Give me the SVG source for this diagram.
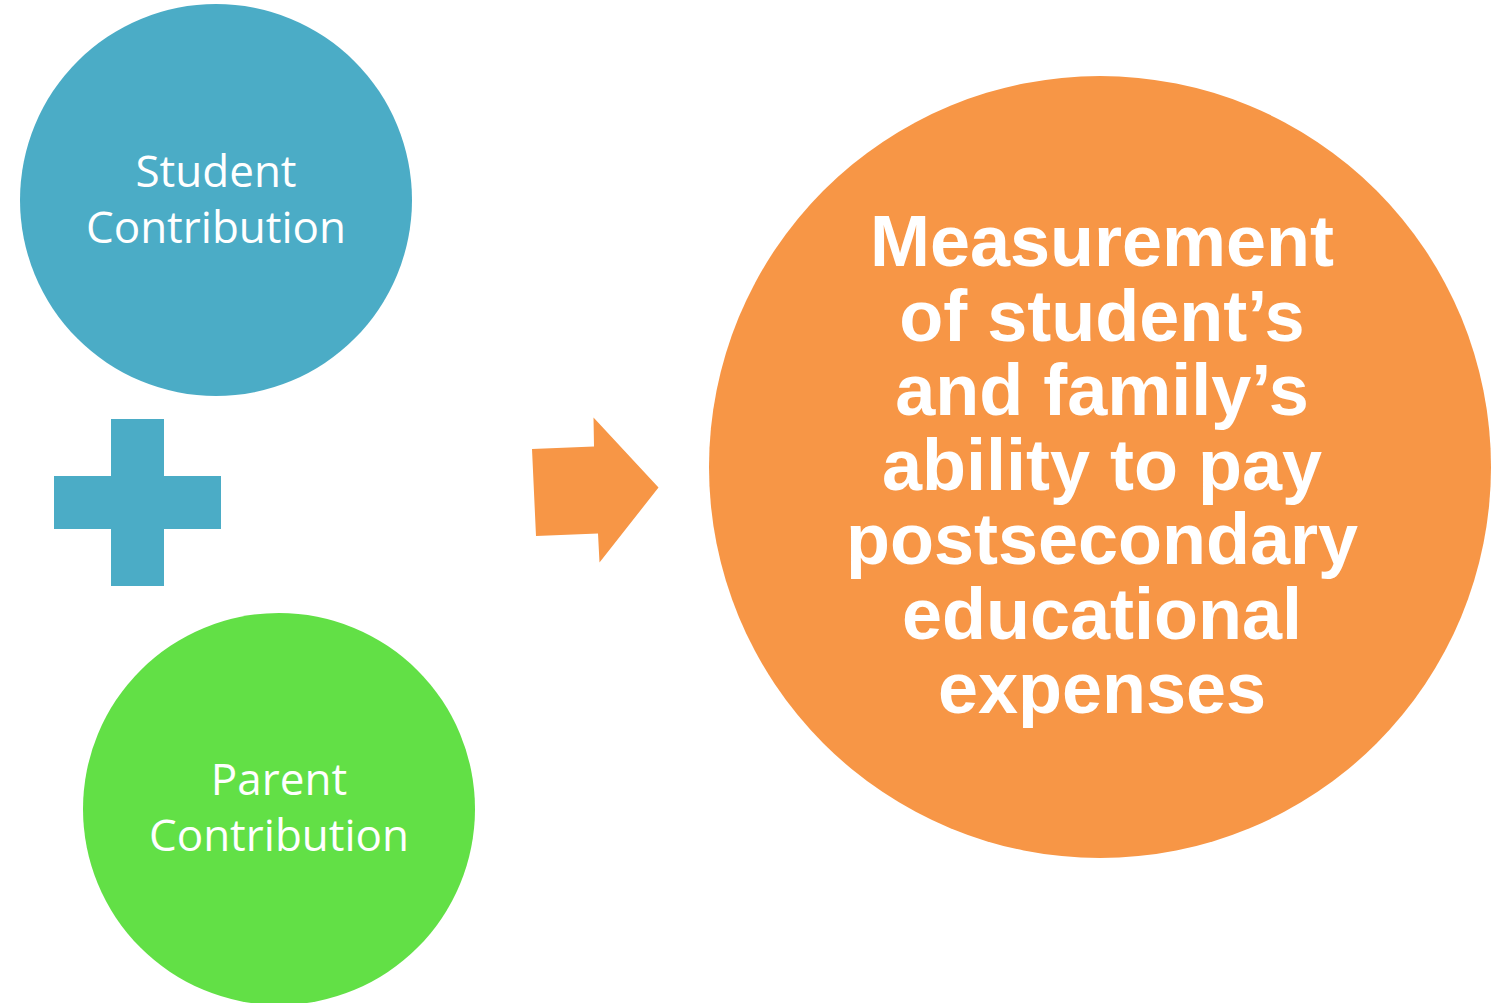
<svg xmlns="http://www.w3.org/2000/svg" width="1491" height="1003" viewBox="0 0 1491 1003">
<style>
.small{font-family:"Open Sans","Noto Sans",sans-serif;font-size:44px;fill:#fff;text-anchor:middle}
.big{font-family:"Liberation Sans",Arial,sans-serif;font-size:72px;font-weight:bold;fill:#fff;text-anchor:middle}
</style>
<rect width="1491" height="1003" fill="#fff"/>
<g id="student">
<circle cx="216" cy="200" r="196" fill="#4BACC6"/>
<text class="small" x="216" y="187">Student</text>
<text class="small" x="216" y="243">Contribution</text>
</g>
<g id="plus">
<path d="M111,419H164V476H221V529H164V586H111V529H54V476H111Z" fill="#4BACC6"/>
</g>
<g id="parent">
<circle cx="279" cy="809" r="196" fill="#62E046"/>
<text class="small" x="279" y="795">Parent</text>
<text class="small" x="279" y="851">Contribution</text>
</g>
<g id="connectors">
<polygon points="532,449 594,446.5 593.5,417.5 658.5,487.5 599.5,562.5 598,533.5 536,536" fill="#F79646"/>
</g>
<g id="result">
<circle cx="1100" cy="467" r="391" fill="#F79646"/>
<text class="big" x="1102" y="266">Measurement</text>
<text class="big" x="1102" y="340.5">of student’s</text>
<text class="big" x="1102" y="415">and family’s</text>
<text class="big" x="1102" y="489.5">ability to pay</text>
<text class="big" x="1102" y="564">postsecondary</text>
<text class="big" x="1102" y="638.5">educational</text>
<text class="big" x="1102" y="713">expenses</text>
</g>
</svg>
